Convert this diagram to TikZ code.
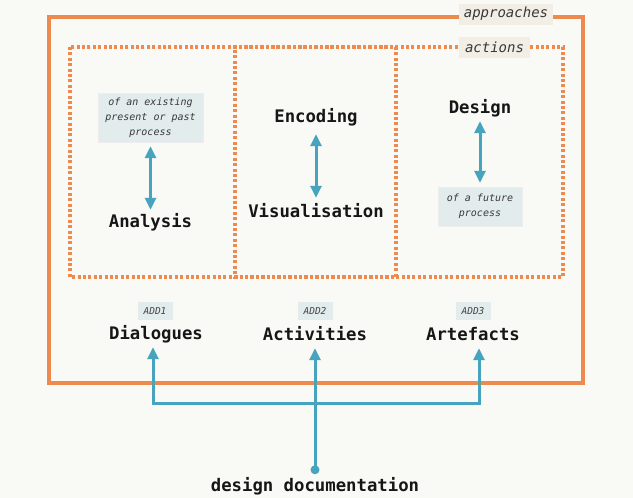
\documentclass[tikz,border=0pt]{standalone}
\usepackage{fontspec}
\setmonofont{DejaVu Sans Mono}
\usetikzlibrary{arrows.meta}
\definecolor{frameOrange}{RGB}{238,138,78}
\definecolor{linkTeal}{RGB}{70,164,190}
\definecolor{paperBg}{RGB}{249,249,245}
\definecolor{tagBeige}{RGB}{242,237,229}
\definecolor{noteBlue}{RGB}{226,236,236}
\definecolor{inkBlack}{RGB}{22,22,22}

\tikzset{
  frame/.style={draw=frameOrange,line width=3.8pt},
  dotframe/.style={draw=frameOrange,line width=3.2pt,dash pattern=on 3pt off 2.4pt},
  tag/.style={fill=tagBeige,text=inkBlack!85,font=\ttfamily\itshape\fontsize{14}{16}\selectfont,minimum height=21pt,inner sep=0pt},
  note/.style={fill=noteBlue,draw=black!7,text=inkBlack!85,align=center,font=\ttfamily\itshape\fontsize{10}{15}\selectfont,inner sep=0pt},
  addtag/.style={fill=noteBlue,text=inkBlack!80,font=\ttfamily\itshape\fontsize{9.5}{11}\selectfont,minimum width=35pt,minimum height=18pt,inner sep=0pt},
  term/.style={anchor=base,text=inkBlack,font=\ttfamily\bfseries\fontsize{17.3}{20}\selectfont,text height=13pt,text depth=4pt,inner sep=0pt},
  link/.style={draw=linkTeal,line width=3pt,-{Triangle[length=12pt,width=11pt]}},
  bilink/.style={draw=linkTeal,line width=3pt,{Triangle[length=12pt,width=11pt]}-{Triangle[length=12pt,width=11pt]},shorten <=4pt,shorten >=4pt}
}

\begin{document}
\begin{tikzpicture}[x=1pt,y=-1pt]
\fill[paperBg,use as bounding box] (0,0) rectangle (633,498);

% approaches frame
\draw[frame] (49,17) rectangle (583,383);
\node[tag,minimum width=94pt] (approaches) at (506,14) {approaches};

% actions frame, the middle column overlaps it
\draw[dotframe] (70,47) rectangle (563,277);
\draw[dotframe,dash phase=2.7pt] (235,47) rectangle (396,277);
\node[tag,minimum width=71pt] (actions) at (494.5,47.5) {actions};

\node[note,minimum width=105pt,minimum height=49pt] (existing) at (150.5,117.5) {of an existing\\present or past\\process};
\node[term] (analysis) at (150.5,227) {Analysis};
\draw[bilink] (existing.south) -- (analysis.north);

\node[term] (encoding) at (316,122) {Encoding};
\node[term] (visualisation) at (316,217) {Visualisation};
\draw[bilink,shorten <=8pt,shorten >=6pt] (encoding.south) -- (visualisation.north);

\node[term] (design) at (480,113) {Design};
\node[note,minimum width=84pt,minimum height=39pt] (future) at (480,206.5) {of a future\\process};
\draw[bilink] (design.south) -- (future.north);

% deliverables
\node[addtag] (add1) at (155,311) {ADD1};
\node[addtag] (add2) at (315,311) {ADD2};
\node[addtag] (add3) at (473,311) {ADD3};
\node[term] (dialogues) at (156,339) {Dialogues};
\node[term] (activities) at (315,340) {Activities};
\node[term] (artefacts) at (473,340) {Artefacts};

\node[term] (documentation) at (315,491) {design documentation};
\coordinate (source) at ([yshift=8pt]documentation.north);
\coordinate (fork) at (315,403);
\fill[linkTeal] (source) circle (4.5pt);
\draw[link,shorten >=4pt] (source) -- (activities.south);
\draw[link,shorten >=4pt] (fork) -| ([xshift=-3pt]dialogues.south);
\draw[link,shorten >=4pt] (fork) -| ([xshift=6pt]artefacts.south);
\end{tikzpicture}
\end{document}
